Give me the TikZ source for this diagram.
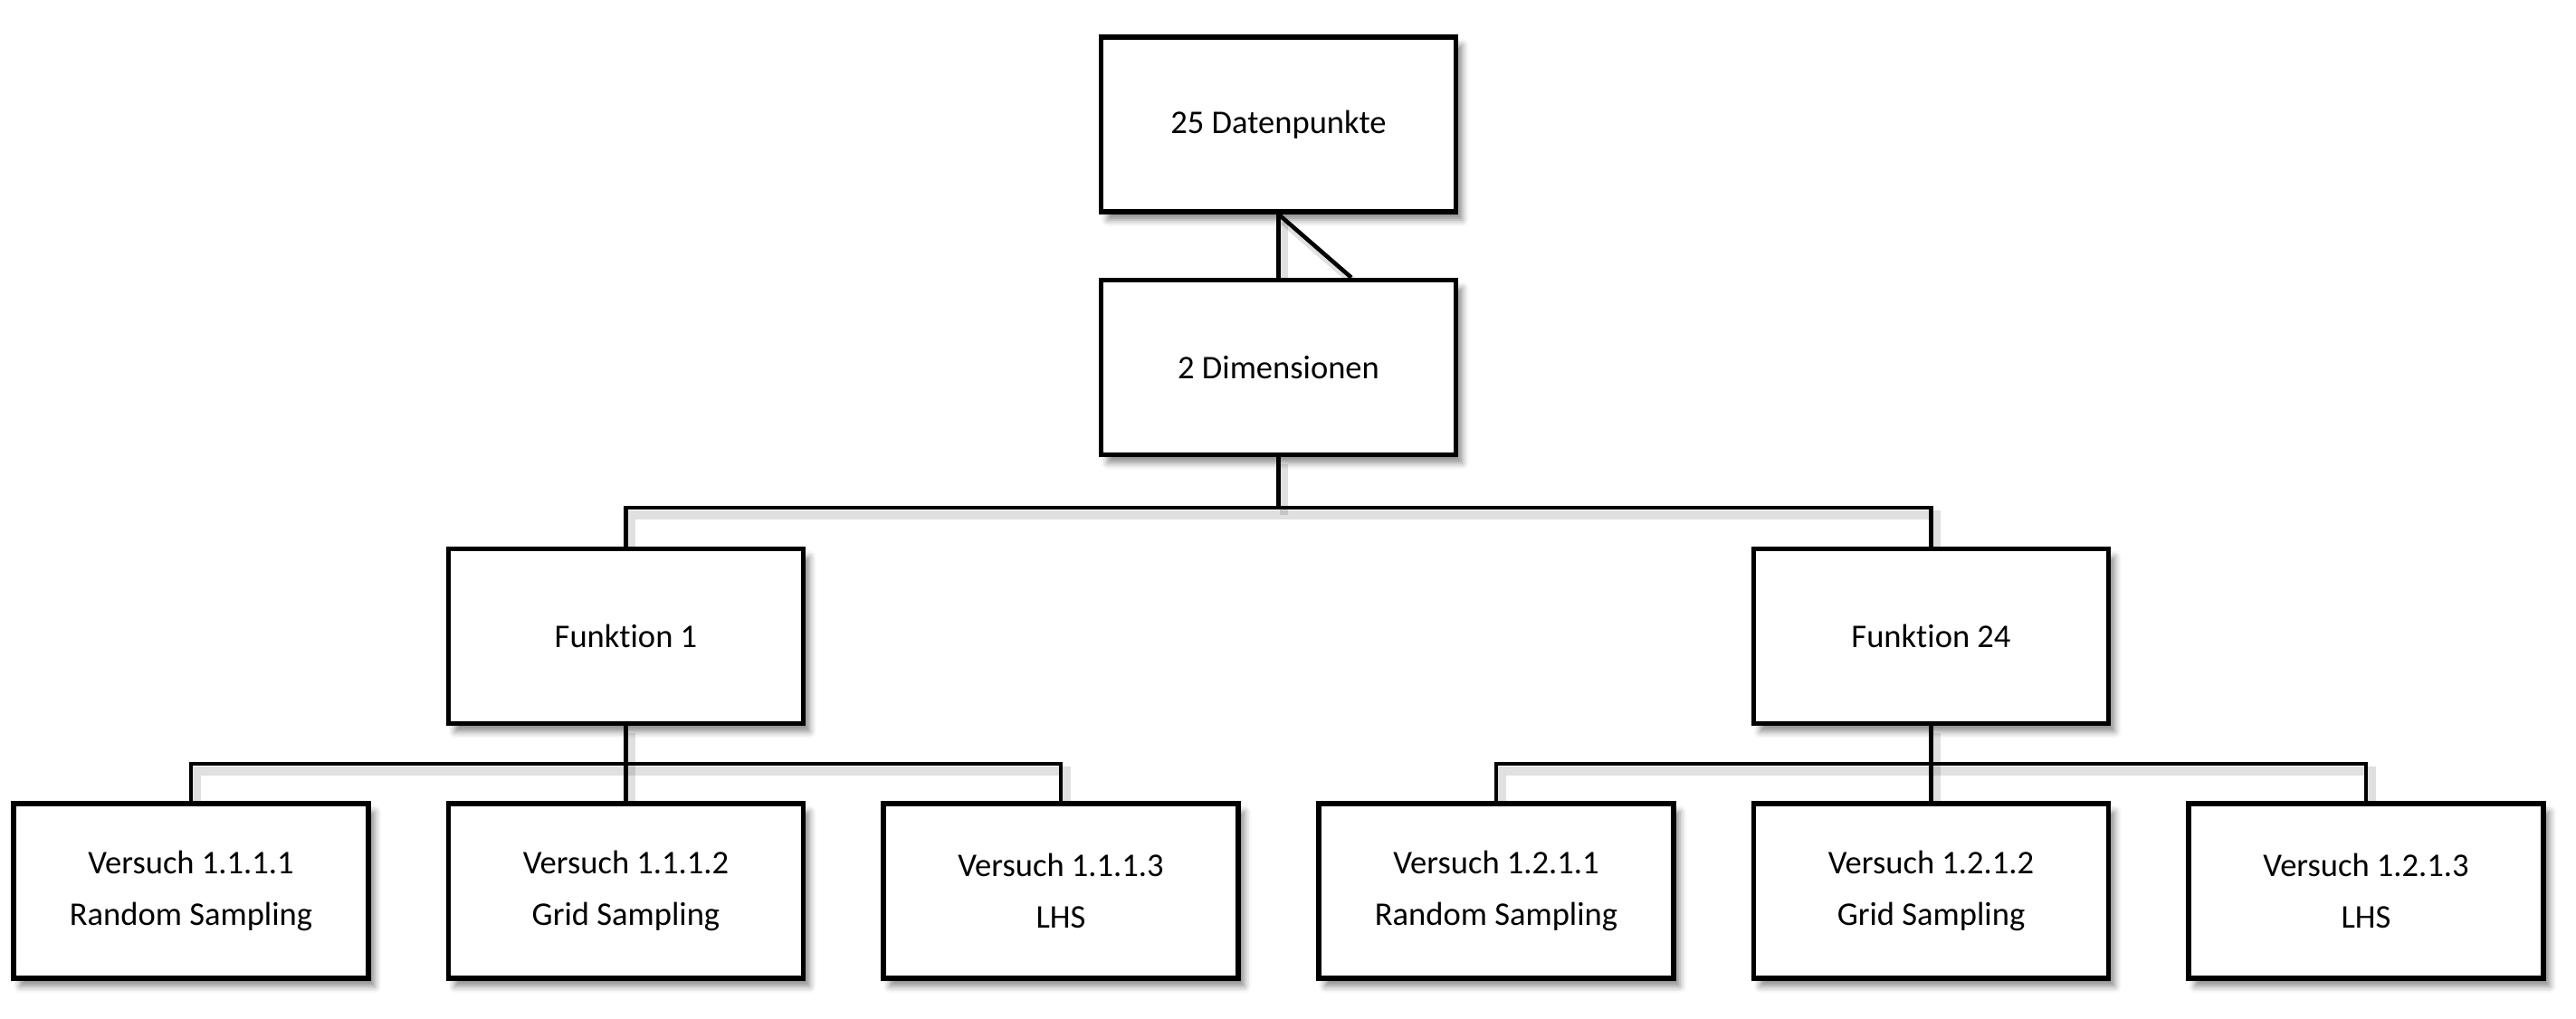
\documentclass[tikz,border=0pt]{standalone}
\usepackage{fontspec}
\setmainfont[Ligatures={NoCommon}]{Carlito}
\usetikzlibrary{positioning,calc,shadows.blur,backgrounds}
\tikzset{
    box/.style = {
        draw,
        shape=rectangle,
        fill=white,
        minimum height=1.93cm,
        minimum width=3.92cm,
        line width=1.6pt,
        align=center,
        font=\fontsize{10.4}{16}\selectfont,
        blur shadow={shadow xshift=0.07cm, shadow yshift=-0.09cm,
            shadow blur radius=0.07cm, shadow opacity=45}
    },
    link/.style = {
        line width=1.3pt,
        preaction={draw=black, opacity=0.12, line width=2.6pt,
            transform canvas={shift={(0.06cm,-0.08cm)}}}
    },
}

\begin{document}
\begin{tikzpicture}
            \useasboundingbox (0,0) rectangle (28.46,-11.26);

            \node[box] (pts) at (14.125,-1.375) {25 Datenpunkte};
            \node[box] (dim) at (14.125,-4.06) {2 Dimensionen};
            \node[box] (fkt1) at (6.915,-7.03) {Funktion 1};
            \node[box] (fkt24) at (21.335,-7.03) {Funktion 24};

            \node[box] (v1111) at (2.11,-9.845) {Versuch 1.1.1.1\\Random Sampling};
            \node[box] (v1112) at (6.915,-9.845) {Versuch 1.1.1.2\\Grid Sampling};
            \node[box] (v1113) at (11.72,-9.845) {Versuch 1.1.1.3\\LHS};
            \node[box] (v1211) at (16.53,-9.845) {Versuch 1.2.1.1\\Random Sampling};
            \node[box] (v1212) at (21.335,-9.845) {Versuch 1.2.1.2\\Grid Sampling};
            \node[box] (v1213) at (26.14,-9.845) {Versuch 1.2.1.3\\LHS};

            \coordinate (busdim) at (14.125,-5.61);
            \coordinate (busf1) at (6.915,-8.44);
            \coordinate (busf24) at (21.335,-8.44);

            \begin{scope}[on background layer]
            \path[draw, link] (pts) -- (dim);
            \path[draw, link] (pts.south) -- (dim.51);

            \path[draw, link] (dim) -- (busdim);
            \path[draw, link] (busdim) -| (fkt1);
            \path[draw, link] (busdim) -| (fkt24);

            \path[draw, link] (fkt1) -- (v1112);
            \path[draw, link] (busf1) -| (v1111);
            \path[draw, link] (busf1) -| (v1113);

            \path[draw, link] (fkt24) -- (v1212);
            \path[draw, link] (busf24) -| (v1211);
            \path[draw, link] (busf24) -| (v1213);
            \end{scope}
        \end{tikzpicture}
\end{document}
